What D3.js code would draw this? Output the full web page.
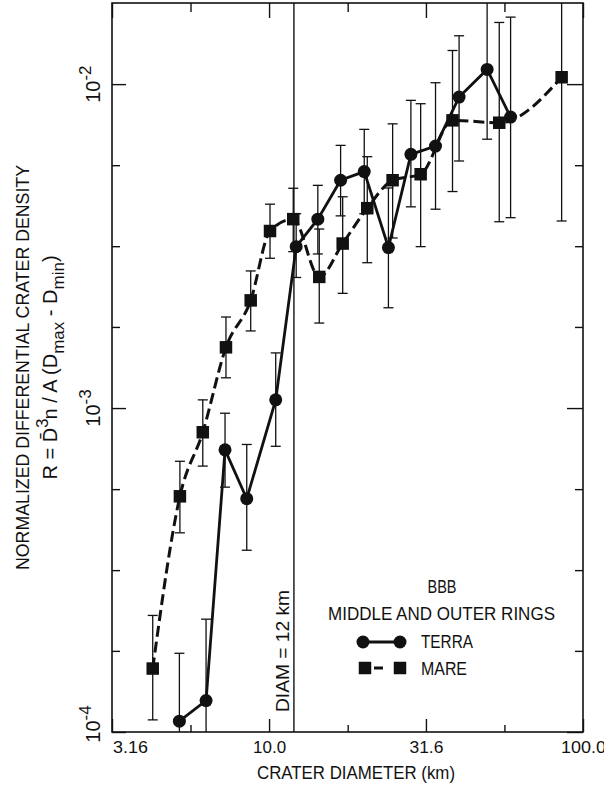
<!DOCTYPE html>
<html><head><meta charset="utf-8">
<script src="https://cdn.jsdelivr.net/npm/d3@7"></script>
<style>
html,body{margin:0;padding:0;background:#fff;}
svg{display:block;}
text{font-family:"Liberation Sans Narrow","Liberation Sans",Arial,sans-serif;font-weight:normal;fill:#111;}
</style></head>
<body>
<div id="chart"></div>
<script>
// ---------- data ----------
const xTickValues = [3.16, 10, 31.6, 100];
const xTickLabels = ["3.16", "10.0", "31.6", "100.0"];
const xMinorTicks = [5.62, 17.8, 56.2];
const yTickValues = [1e-4, 1e-3, 1e-2];
const yTickExponents = ["-4", "-3", "-2"];
const yMinorTicks = [1.78e-4, 3.16e-4, 5.62e-4, 1.78e-3, 3.16e-3, 5.62e-3];

const terraD  = [5.18, 6.30, 7.24, 8.49, 10.5, 12.2, 14.3, 16.9, 20.1, 24.0, 28.3, 33.9, 40.3, 49.5, 58.8];
const terraR  = [1.08e-4, 1.25e-4, 7.43e-4, 5.25e-4, 1.06e-3, 3.15e-3, 3.83e-3, 5.05e-3, 5.37e-3, 3.13e-3, 6.07e-3, 6.44e-3, 9.12e-3, 1.11e-2, 7.91e-3];
const terraHi = [1.75e-4, 2.23e-4, 9.64e-4, 7.72e-4, 1.48e-3, 3.98e-3, 4.87e-3, 6.47e-3, 7.25e-3, 4.78e-3, 8.91e-3, 1.01e-2, 1.41e-2, 2.1e-2, 1.61e-2];
const terraLo = [6.0e-5, 7.0e-5, 5.70e-4, 3.64e-4, 7.62e-4, 2.53e-3, 2.99e-3, 3.92e-3, 3.98e-3, 2.04e-3, 4.18e-3, 4.11e-3, 5.79e-3, 6.76e-3, 3.87e-3];

const mareD  = [4.26, 5.20, 6.15, 7.29, 8.74, 10.07, 11.94, 14.45, 17.16, 20.55, 24.75, 30.4, 38.4, 54.1, 85.5];
const mareR  = [1.57e-4, 5.34e-4, 8.42e-4, 1.54e-3, 2.15e-3, 3.52e-3, 3.83e-3, 2.54e-3, 3.22e-3, 4.14e-3, 5.05e-3, 5.27e-3, 7.73e-3, 7.60e-3, 1.05e-2];
const mareHi = [2.29e-4, 6.85e-4, 1.06e-3, 1.91e-3, 2.65e-3, 4.26e-3, 4.77e-3, 3.57e-3, 4.49e-3, 5.97e-3, 7.54e-3, 8.70e-3, 1.27e-2, 1.55e-2, 2.5e-2];
const mareLo = [1.09e-4, 4.12e-4, 6.62e-4, 1.24e-3, 1.73e-3, 2.90e-3, 3.04e-3, 1.83e-3, 2.26e-3, 2.81e-3, 3.35e-3, 3.15e-3, 4.66e-3, 3.76e-3, 3.78e-3];

const diamLine = 12;

// ---------- layout ----------
const W = 604, H = 786;
const L = 112, R = 583, T = 3, B = 732;
const x = d3.scaleLog().domain([3.16, 100]).range([L, R]);
const y = d3.scaleLog().domain([1e-4, 0.0178]).range([B, T]);

const svg = d3.select("#chart").append("svg").attr("width", W).attr("height", H);
svg.append("rect").attr("width", W).attr("height", H).attr("fill", "#fff");

svg.append("defs").append("clipPath").attr("id", "plotclip")
  .append("rect").attr("x", L).attr("y", T).attr("width", R - L).attr("height", B - T);

// frame
svg.append("rect").attr("x", L).attr("y", T).attr("width", R - L).attr("height", B - T)
  .attr("fill", "none").attr("stroke", "#111").attr("stroke-width", 1.6);

// axes (ticks inward)
function styleAxis(g){ g.select(".domain").remove(); g.selectAll("line").attr("stroke","#111").attr("stroke-width",1.4); }
const xLabelWidths = [35, 33, 34, 45];
svg.append("g").attr("transform", `translate(0,${B})`)
  .call(d3.axisBottom(x).tickValues(xTickValues).tickSize(-13).tickPadding(9).tickFormat((d,i)=>xTickLabels[i]))
  .call(styleAxis)
  .call(g => g.selectAll("text").attr("font-size", 17).attr("fill","#111")
      .attr("font-family", '"Liberation Sans",Arial,sans-serif')
      .attr("textLength", (d,i)=>xLabelWidths[i]).attr("lengthAdjust","spacingAndGlyphs")
      .attr("dx", (d,i)=> i===0 ? 18 : 0));
svg.append("g").attr("transform", `translate(0,${B})`)
  .call(d3.axisBottom(x).tickValues(xMinorTicks).tickSize(-7).tickFormat(""))
  .call(styleAxis);
svg.append("g").attr("transform", `translate(0,${T})`)
  .call(d3.axisTop(x).tickValues(xTickValues).tickSize(-15).tickFormat(""))
  .call(styleAxis);
svg.append("g").attr("transform", `translate(0,${T})`)
  .call(d3.axisTop(x).tickValues(xMinorTicks).tickSize(-9).tickFormat(""))
  .call(styleAxis);
svg.append("g").attr("transform", `translate(${L},0)`)
  .call(d3.axisLeft(y).tickValues(yTickValues).tickSize(-14).tickFormat(""))
  .call(styleAxis);
svg.append("g").attr("transform", `translate(${L},0)`)
  .call(d3.axisLeft(y).tickValues(yMinorTicks).tickSize(-8).tickFormat(""))
  .call(styleAxis);
svg.append("g").attr("transform", `translate(${R},0)`)
  .call(d3.axisRight(y).tickValues(yTickValues).tickSize(-16).tickFormat(""))
  .call(styleAxis);
svg.append("g").attr("transform", `translate(${R},0)`)
  .call(d3.axisRight(y).tickValues(yMinorTicks).tickSize(-8).tickFormat(""))
  .call(styleAxis);

// y tick labels (rotated, 10^n)
yTickValues.forEach((v,i)=>{
  const yy = y(v) - (i===0 ? 8 : 0);
  const t = svg.append("text").attr("transform", `translate(100,${yy}) rotate(-90)`)
    .attr("text-anchor","middle").attr("font-size", 20);
  t.append("tspan").text("10");
  t.append("tspan").attr("dy", -9).attr("font-size", 17).text(yTickExponents[i]);
});

// x title
svg.append("text").attr("x", 356).attr("y", 779).attr("text-anchor","middle")
  .attr("font-size", 18).attr("textLength", 198).attr("lengthAdjust","spacingAndGlyphs")
  .text("CRATER DIAMETER (km)");

// y title
svg.append("text").attr("transform", `translate(29,${(T+B)/2}) rotate(-90)`)
  .attr("text-anchor","middle").attr("font-size", 19)
  .attr("textLength", 405).attr("lengthAdjust","spacingAndGlyphs")
  .text("NORMALIZED DIFFERENTIAL CRATER DENSITY");
const t2 = svg.append("text").attr("transform", `translate(57,${(T+B)/2}) rotate(-90)`)
  .attr("text-anchor","middle").attr("font-size", 20);
t2.append("tspan").text("R = D\u0304");
t2.append("tspan").attr("dy", -9).attr("font-size", 17).text("3");
t2.append("tspan").attr("dy", 9).attr("dx", -1).text("n / A (D");
t2.append("tspan").attr("dy", 7).attr("font-size", 17).text("max");
t2.append("tspan").attr("dy", -7).text(" - D");
t2.append("tspan").attr("dy", 7).attr("font-size", 17).text("min");
t2.append("tspan").attr("dy", -7).text(")");

// DIAM = 12 km line
svg.append("line").attr("x1", x(diamLine)).attr("x2", x(diamLine)).attr("y1", T).attr("y2", B)
  .attr("stroke","#111").attr("stroke-width",1.4);
svg.append("text").attr("transform", `translate(${x(diamLine)-5},${651}) rotate(-90)`)
  .attr("text-anchor","middle").attr("font-size", 18)
  .attr("textLength", 122).attr("lengthAdjust","spacingAndGlyphs")
  .text("DIAM = 12 km");

const plot = svg.append("g").attr("clip-path","url(#plotclip)");

function errorBars(D, lo, hi){
  const g = plot.append("g").attr("stroke","#111").attr("stroke-width",1.3);
  D.forEach((d,i)=>{
    const cx = x(d);
    g.append("line").attr("x1",cx).attr("x2",cx).attr("y1",y(lo[i])).attr("y2",y(hi[i]));
    g.append("line").attr("x1",cx-5).attr("x2",cx+5).attr("y1",y(lo[i])).attr("y2",y(lo[i]));
    g.append("line").attr("x1",cx-5).attr("x2",cx+5).attr("y1",y(hi[i])).attr("y2",y(hi[i]));
  });
}
errorBars(terraD, terraLo, terraHi);
errorBars(mareD, mareLo, mareHi);

const mareLine = d3.line().x((d,i)=>x(mareD[i])).y((d,i)=>y(mareR[i])).curve(d3.curveMonotoneX);
plot.append("path").attr("d", mareLine(mareR)).attr("fill","none").attr("stroke","#111")
  .attr("stroke-width",3).attr("stroke-dasharray","11,5");
const terraLine = d3.line().x((d,i)=>x(terraD[i])).y((d,i)=>y(terraR[i]));
plot.append("path").attr("d", terraLine(terraR)).attr("fill","none").attr("stroke","#111")
  .attr("stroke-width",2.8);

plot.selectAll("rect.m").data(mareR).join("rect").attr("class","m")
  .attr("x",(d,i)=>x(mareD[i])-6.25).attr("y",d=>y(d)-6.25).attr("width",12.5).attr("height",12.5)
  .attr("fill","#111");
plot.selectAll("circle.t").data(terraR).join("circle").attr("class","t")
  .attr("cx",(d,i)=>x(terraD[i])).attr("cy",d=>y(d)).attr("r",6.5).attr("fill","#111");

// legend
const lg = svg.append("g");
lg.append("text").attr("x",442).attr("y",593).attr("text-anchor","middle").attr("font-size",18)
  .attr("textLength",29).attr("lengthAdjust","spacingAndGlyphs").text("BBB");
lg.append("text").attr("x",441.5).attr("y",620).attr("text-anchor","middle").attr("font-size",18)
  .attr("textLength",227).attr("lengthAdjust","spacingAndGlyphs").text("MIDDLE AND OUTER RINGS");
lg.append("line").attr("x1",363).attr("x2",400).attr("y1",642).attr("y2",642).attr("stroke","#111").attr("stroke-width",3);
lg.append("circle").attr("cx",363).attr("cy",642).attr("r",6.5).attr("fill","#111");
lg.append("circle").attr("cx",400).attr("cy",642).attr("r",6.5).attr("fill","#111");
lg.append("text").attr("x",421).attr("y",648).attr("font-size",18)
  .attr("textLength",52).attr("lengthAdjust","spacingAndGlyphs").text("TERRA");
lg.append("line").attr("x1",365).attr("x2",400).attr("y1",668).attr("y2",668).attr("stroke","#111").attr("stroke-width",3)
  .attr("stroke-dasharray","5,4,9,20");
lg.append("rect").attr("x",365-6.25).attr("y",668-6.25).attr("width",12.5).attr("height",12.5).attr("fill","#111");
lg.append("rect").attr("x",400-6.25).attr("y",668-6.25).attr("width",12.5).attr("height",12.5).attr("fill","#111");
lg.append("text").attr("x",421).attr("y",675).attr("font-size",18)
  .attr("textLength",46).attr("lengthAdjust","spacingAndGlyphs").text("MARE");
</script>
</body></html>
